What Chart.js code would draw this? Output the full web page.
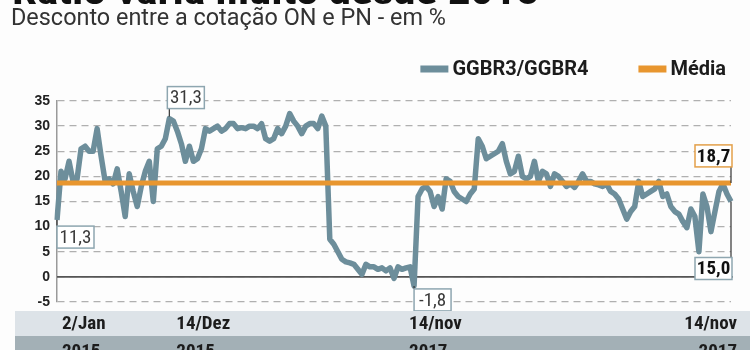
<!DOCTYPE html>
<html><head><meta charset="utf-8">
<script src="https://cdn.jsdelivr.net/npm/chart.js@4"></script>
<style>
html,body{margin:0;padding:0;background:#fdfdfd;width:750px;height:350px;overflow:hidden;}
#wrap{position:relative;width:750px;height:350px;}
.hd{position:absolute;white-space:nowrap;transform-origin:0 0;}
#title{left:12px;top:-28px;font:bold 35px 'Roboto Condensed','Roboto',sans-serif;color:#111;}
#sub{left:11px;top:3px;font:24px 'Roboto',sans-serif;color:#333;}
canvas{position:absolute;left:0;top:0;}
</style></head>
<body><div id="wrap">
<canvas id="c" width="750" height="350"></canvas>
<div class="hd" id="title">Ratio varia muito desde 2015</div>
<div class="hd" id="sub">Desconto entre a cotação ON e PN - em %</div>
</div>
<script>
const seriesName = 'GGBR3/GGBR4';
const mediaName = 'Média';
const mediaValue = 18.7;
const ratio = [
 11.3,21,19.5,23,19,19.5,25.5,26,25,25,29.5,24,19,19.5,18.5,21.5,17,12,20.5,17,
 14,18,21,23,15,25.5,26,27.5,31.5,31,29,26.5,23,26,23,23.5,25.5,29.5,29,29.5,
 30,29,29.5,30.5,30.5,29.5,29.7,29.5,30,30,29.5,30.5,27.5,27,27.5,29.5,28.5,30,32.5,31,
 30,28.5,30,30.5,30.5,29.5,32,30,7.5,6.5,5,3.5,3,2.8,2.5,1.5,0.5,2.5,2,2,
 1.5,1.8,1.2,1.8,-0.3,2,1.5,1.8,2,-1.8,16,17.5,18,17,14,16,13.5,19.5,19,17,
 16,15.5,15,16.5,17.5,27.5,26,23.5,24,24.5,25,26.5,23,20.5,21,24,20,19.5,20,23,
 19,21,20.5,18,20.5,20,19,18,18.5,17.8,19,20.5,19,19,18.5,18.3,18,18.5,17,16.5,
 15.5,13.5,11.5,13,14,19,16,16.5,17,17.5,19,16,16.5,14,13,12.5,11,9.8,13.5,12,
 5,16.5,14,9,13,17,18.5,16.5,15
];
const days = ratio.map((_, i) => String(i));
const yMin = -5, yMax = 35, yStep = 5;
const xTickIndex = [0, 29, 87, 168];
const xTickDay = ['2/Jan', '14/Dez', '14/nov', '14/nov'];
const xTickYear = ['2015', '2015', '2017', '2017'];
const callouts = [
  {index: 0, text: '11,3', kind: 'series', place: 'below'},
  {index: 28, text: '31,3', kind: 'series', place: 'above'},
  {index: 89, text: '-1,8', kind: 'series', place: 'belowTight'},
  {index: ratio.length - 1, text: '18,7', kind: 'media', place: 'endAbove'},
  {index: ratio.length - 1, text: '15,0', kind: 'series', place: 'endBelow'}
];

// fit headings to the reference widths
function fitWidth(id, w) {
  const el = document.getElementById(id);
  el.style.transform = 'scaleX(' + (w / el.getBoundingClientRect().width) + ')';
}
fitWidth('title', 527);
fitWidth('sub', 435);

const FONT = "'Roboto Condensed','Roboto',sans-serif";
const C_SERIES = '#6d8e9b', C_MEDIA = '#e8962f';

const overlay = {
  id: 'overlay',
  beforeDatasetsDraw(chart) {
    const ctx = chart.ctx, ys = chart.scales.y, ca = chart.chartArea;
    const y0 = ys.getPixelForValue(0);
    ctx.save();
    ctx.strokeStyle = '#555'; ctx.lineWidth = 1.8;
    ctx.beginPath(); ctx.moveTo(ca.left, y0); ctx.lineTo(ca.right + 2, y0); ctx.stroke();
    ctx.restore();
  },
  afterDraw(chart) {
    const ctx = chart.ctx, xs = chart.scales.x, ys = chart.scales.y, ca = chart.chartArea;
    ctx.save();
    // legend
    ctx.font = "bold 20px 'Roboto',sans-serif";
    ctx.textBaseline = 'middle'; ctx.textAlign = 'left';
    const ds = chart.data.datasets;
    const sw = 28, gap = 4, itemGap = 50;
    const widths = ds.map(d => sw + gap + ctx.measureText(d.label).width);
    let lx = 726 - widths.reduce((a, b) => a + b, 0) - itemGap * (ds.length - 1);
    const ly = 69;
    ds.forEach((d, k) => {
      ctx.fillStyle = d.borderColor;
      ctx.fillRect(lx, ly - 3.5, sw, 7);
      ctx.fillStyle = '#1c1c1c';
      ctx.fillText(d.label, lx + sw + gap, ly + 1);
      lx += widths[k] + itemGap;
    });
    // callouts
    callouts.forEach(c => {
      const px = xs.getPixelForValue(c.index);
      const val = c.kind === 'media' ? mediaValue : ratio[c.index];
      const py = ys.getPixelForValue(val);
      const w = 37, h = 22;
      let bx, by, lx1, ly1, lx2, ly2;
      if (c.place === 'below') { bx = px; by = py + 6; lx1 = px; ly1 = py; lx2 = px; ly2 = by; }
      else if (c.place === 'above') { bx = px - 2; by = py - 32; lx1 = px; ly1 = by + h; lx2 = px; ly2 = py - 2; }
      else if (c.place === 'belowTight') { bx = px; by = py + 3; lx1 = px; ly1 = py; lx2 = px; ly2 = by; }
      else if (c.place === 'endAbove') { bx = px - w + 1; by = py - 16 - h; lx1 = px; ly1 = by + h; lx2 = px; ly2 = py; }
      else { bx = px - w + 1; by = py + 56; lx1 = px; ly1 = py; lx2 = px; ly2 = by; }
      const col = c.kind === 'media' ? '#e3a04a' : '#8ea6b0';
      ctx.strokeStyle = '#333'; ctx.lineWidth = 1.2;
      ctx.beginPath(); ctx.moveTo(lx1, ly1); ctx.lineTo(lx2, ly2); ctx.stroke();
      ctx.fillStyle = '#ffffff';
      ctx.fillRect(bx, by, w, h);
      ctx.strokeStyle = col; ctx.lineWidth = 1.5;
      ctx.strokeRect(bx, by, w, h);
      const bold = c.place.startsWith('end');
      ctx.font = (bold ? 'bold ' : '') + '19px ' + FONT;
      ctx.fillStyle = bold ? '#111' : '#3a3a3a';
      ctx.textAlign = 'center'; ctx.textBaseline = 'middle';
      ctx.fillText(c.text, bx + w / 2, by + h / 2 + 1);
    });
    // bottom date bands
    const b1 = ca.bottom + 9, b2 = ca.bottom + 34;
    ctx.fillStyle = '#dde3e8';
    ctx.fillRect(15, b1, chart.width - 15, b2 - b1);
    ctx.fillStyle = '#a3b0b6';
    ctx.fillRect(15, b2, chart.width - 15, chart.height - b2);
    ctx.fillStyle = '#1c1c1c';
    ctx.font = 'bold 19px ' + FONT;
    xTickIndex.forEach((idx, k) => {
      const px = xs.getPixelForValue(idx);
      const last = k === xTickIndex.length - 1;
      ctx.textAlign = last ? 'right' : 'left';
      const tx = last ? px + 6 : px + (k === 0 ? 5 : 3);
      ctx.textBaseline = 'middle';
      ctx.fillText(xTickDay[k], tx, (b1 + b2) / 2 + 1);
      ctx.textBaseline = 'top';
      ctx.fillText(xTickYear[k], tx, b2 + 7);
    });
    ctx.restore();
  }
};

new Chart(document.getElementById('c'), {
  type: 'line',
  data: {
    labels: days,
    datasets: [
      {label: seriesName, data: ratio, borderColor: C_SERIES, backgroundColor: C_SERIES,
       borderWidth: 5.5, borderJoinStyle: 'round', pointRadius: 0, tension: 0, order: 1},
      {label: mediaName, data: ratio.map(() => mediaValue), borderColor: C_MEDIA, backgroundColor: C_MEDIA,
       borderWidth: 5, pointRadius: 0, tension: 0, order: 0}
    ]
  },
  options: {
    responsive: false, animation: false, devicePixelRatio: 1,
    layout: {padding: {left: 0, right: 19, top: 101, bottom: 48}},
    plugins: {tooltip: {enabled: false}, legend: {display: false}},
    scales: {
      x: {display: false},
      y: {
        min: yMin, max: yMax,
        afterFit: (s) => { s.width = 57; },
        ticks: {stepSize: yStep, color: '#222', padding: 7,
                font: {family: "'Liberation Sans','Arial',sans-serif", size: 14, weight: 'bold'}},
        grid: {drawTicks: false, color: '#b0b0b0', lineWidth: 1.3},
        border: {display: true, color: '#9a9a9a', width: 1.5, dash: [7, 5]}
      }
    }
  },
  plugins: [overlay]
});
</script>
</body></html>
